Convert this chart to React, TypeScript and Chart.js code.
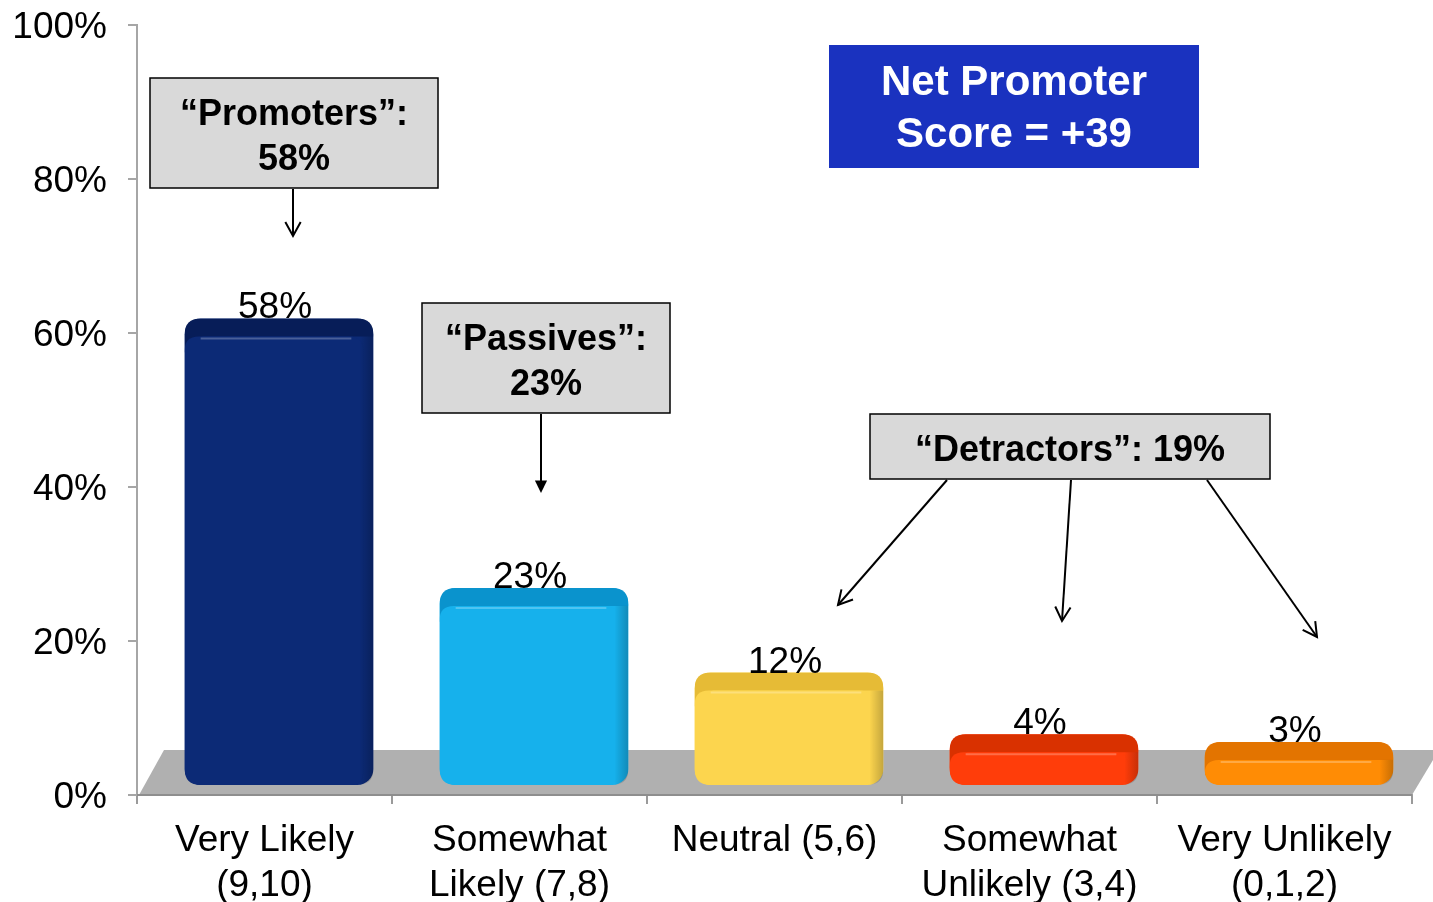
import React, { useEffect, useRef } from "react";
import { Chart, registerables } from "chart.js";

Chart.register(...registerables);

const categories: string[][] = [
  ["Very Likely", "(9,10)"],
  ["Somewhat", "Likely (7,8)"],
  ["Neutral (5,6)"],
  ["Somewhat", "Unlikely (3,4)"],
  ["Very Unlikely", "(0,1,2)"],
];
const values = [58, 23, 12, 4, 3];
const frontColors = ["#0c2a76", "#16b1ec", "#fcd54e", "#ff3d0a", "#ff8c05"];
const topColors = ["#071d58", "#0a93cd", "#e6bb36", "#d93100", "#e37400"];
const yTickValues = [0, 20, 40, 60, 80, 100];

const promotersText = ["\u201cPromoters\u201d:", "58%"];
const passivesText = ["\u201cPassives\u201d:", "23%"];
const detractorsText = ["\u201cDetractors\u201d: 19%"];
const npsText = ["Net Promoter", "Score = +39"];

const FONT = '"Liberation Sans", Arial, Helvetica, sans-serif';

// 3D look: bars shifted right/up, floor in perspective
const DEPTH_X = 14.5;
const DEPTH_Y = -30;

function roundRectPath(ctx: CanvasRenderingContext2D, x: number, y: number, w: number, h: number, r: number) {
  ctx.beginPath();
  ctx.moveTo(x + r, y);
  ctx.lineTo(x + w - r, y);
  ctx.quadraticCurveTo(x + w, y, x + w, y + r);
  ctx.lineTo(x + w, y + h - r);
  ctx.quadraticCurveTo(x + w, y + h, x + w - r, y + h);
  ctx.lineTo(x + r, y + h);
  ctx.quadraticCurveTo(x, y + h, x, y + h - r);
  ctx.lineTo(x, y + r);
  ctx.quadraticCurveTo(x, y, x + r, y);
  ctx.closePath();
}

function arrow(ctx: CanvasRenderingContext2D, x1: number, y1: number, x2: number, y2: number, filled: boolean) {
  ctx.save();
  ctx.strokeStyle = "#000";
  ctx.fillStyle = "#000";
  ctx.lineWidth = 2;
  const ang = Math.atan2(y2 - y1, x2 - x1);
  const len = filled ? 14 : 16;
  const spread = filled ? 0.45 : 0.5;
  ctx.beginPath();
  ctx.moveTo(x1, y1);
  ctx.lineTo(filled ? x2 - Math.cos(ang) * 8 : x2, filled ? y2 - Math.sin(ang) * 8 : y2);
  ctx.stroke();
  const ax = x2 - Math.cos(ang - spread) * len;
  const ay = y2 - Math.sin(ang - spread) * len;
  const bx = x2 - Math.cos(ang + spread) * len;
  const by = y2 - Math.sin(ang + spread) * len;
  ctx.beginPath();
  if (filled) {
    ctx.moveTo(ax, ay);
    ctx.lineTo(x2, y2);
    ctx.lineTo(bx, by);
    ctx.closePath();
    ctx.fill();
  } else {
    ctx.moveTo(ax, ay);
    ctx.lineTo(x2, y2);
    ctx.lineTo(bx, by);
    ctx.stroke();
  }
  ctx.restore();
}

function textBox(
  ctx: CanvasRenderingContext2D,
  x: number, y: number, w: number, h: number,
  lines: string[], fill: string, stroke: string | null, color: string, size: number, lineH: number, dy: number
) {
  ctx.save();
  ctx.fillStyle = fill;
  ctx.fillRect(x, y, w, h);
  if (stroke) {
    ctx.strokeStyle = stroke;
    ctx.lineWidth = 1.5;
    ctx.strokeRect(x, y, w, h);
  }
  ctx.fillStyle = color;
  ctx.font = `bold ${size}px ${FONT}`;
  ctx.textAlign = "center";
  ctx.textBaseline = "middle";
  const cy = y + h / 2;
  const start = cy - ((lines.length - 1) * lineH) / 2;
  lines.forEach((l, i) => ctx.fillText(l, x + w / 2, start + i * lineH + dy));
  ctx.restore();
}

const threeDPlugin = {
  id: "threeD",
  beforeDatasetsDraw(chart: any) {
    const { ctx, chartArea } = chart;
    const { left, right, bottom } = chartArea;
    ctx.save();
    // floor
    ctx.beginPath();
    ctx.moveTo(left + 2, bottom);
    ctx.lineTo(left + 27, bottom - 45);
    ctx.lineTo(right + 27, bottom - 45);
    ctx.lineTo(right, bottom);
    ctx.closePath();
    ctx.fillStyle = "#b0b0b0";
    ctx.fill();
    ctx.strokeStyle = "#8e8e8e";
    ctx.lineWidth = 2;
    ctx.beginPath();
    ctx.moveTo(left, bottom);
    ctx.lineTo(right, bottom);
    ctx.stroke();
    ctx.restore();
    ctx.save();
    ctx.translate(DEPTH_X, DEPTH_Y);
  },
  afterDatasetsDraw(chart: any) {
    const { ctx } = chart;
    const meta = chart.getDatasetMeta(0);
    meta.data.forEach((el: any, i: number) => {
      const { x, y, base, width } = el.getProps(["x", "y", "base", "width"], true);
      const l = x - width / 2;
      const h = base - y;
      ctx.save();
      roundRectPath(ctx, l, y, width, h, 16);
      ctx.clip();
      // top face
      ctx.fillStyle = topColors[i];
      ctx.beginPath();
      ctx.moveTo(l, y);
      ctx.lineTo(l + width, y);
      ctx.lineTo(l + width, y + 18);
      ctx.lineTo(l + 18, y + 18);
      ctx.lineTo(l, y + 34);
      ctx.closePath();
      ctx.fill();
      // front face
      ctx.fillStyle = frontColors[i];
      roundRectPath(ctx, l, y + 18, width - 10, h - 18, 14);
      ctx.fill();
      // right side shading
      const g = ctx.createLinearGradient(l + width - 14, 0, l + width, 0);
      g.addColorStop(0, "rgba(0,0,0,0)");
      g.addColorStop(1, "rgba(0,0,0,0.22)");
      ctx.fillStyle = g;
      ctx.fillRect(l + width - 14, y + 18, 14, h - 18);
      // highlight line
      ctx.strokeStyle = "rgba(255,255,255,0.25)";
      ctx.lineWidth = 2;
      ctx.beginPath();
      ctx.moveTo(l + 16, y + 20);
      ctx.lineTo(l + width - 22, y + 20);
      ctx.stroke();
      ctx.restore();
    });
    ctx.restore();
    // value labels
    ctx.save();
    ctx.fillStyle = "#000";
    ctx.font = `37px ${FONT}`;
    ctx.textAlign = "center";
    ctx.textBaseline = "alphabetic";
    meta.data.forEach((el: any, i: number) => {
      const { x, y } = el.getProps(["x", "y"], true);
      ctx.fillText(`${values[i]}%`, x + DEPTH_X - 4, y + DEPTH_Y);
    });
    ctx.restore();
  },
  afterDraw(chart: any) {
    const { ctx } = chart;
    textBox(ctx, 150, 78, 288, 110, promotersText, "#d9d9d9", "#000", "#000", 36, 45, 5);
    arrow(ctx, 293, 189, 293, 236, false);
    textBox(ctx, 422, 303, 248, 110, passivesText, "#d9d9d9", "#000", "#000", 36, 45, 5);
    arrow(ctx, 541, 414, 541, 493, true);
    textBox(ctx, 870, 414, 400, 65, detractorsText, "#d9d9d9", "#000", "#000", 36, 45, 5);
    arrow(ctx, 947, 480, 838, 605, false);
    arrow(ctx, 1071, 480, 1062, 621, false);
    arrow(ctx, 1207, 480, 1317, 637, false);
    textBox(ctx, 829, 45, 370, 123, npsText, "#1a32bf", null, "#fff", 42, 52, 3);
  },
};

export default function App() {
  const ref = useRef<HTMLCanvasElement>(null);
  useEffect(() => {
    if (!ref.current) return;
    const chart = new Chart(ref.current, {
      type: "bar",
      data: {
        labels: categories,
        datasets: [
          {
            data: values,
            backgroundColor: frontColors,
            borderRadius: 16,
            borderSkipped: false,
            base: -2.6,
            clip: false as any,
            categoryPercentage: 1,
            barPercentage: 0.74,
          } as any,
        ],
      },
      options: {
        animation: false,
        responsive: true,
        maintainAspectRatio: false,
        layout: { padding: { top: 25, right: 21, bottom: 0, left: 0 } },
        plugins: { legend: { display: false }, tooltip: { enabled: false } },
        scales: {
          x: {
            offset: true,
            grid: { display: true, drawOnChartArea: false, drawTicks: true, tickLength: 9, color: "#9a9a9a", lineWidth: 2, offset: true },
            border: { display: true, color: "#9a9a9a", width: 2 },
            ticks: { color: "#000", font: { family: FONT, size: 37 }, padding: 15, maxRotation: 0, autoSkip: false },
            afterFit: (s: any) => { s.height = 107; s.paddingLeft = 0; s.paddingRight = 0; },
          },
          y: {
            min: 0,
            max: 100,
            afterBuildTicks: (s: any) => { s.ticks = yTickValues.map((v) => ({ value: v })); },
            grid: { display: true, drawOnChartArea: false, drawTicks: true, tickLength: 9, color: "#a6a6a6", lineWidth: 2 },
            border: { display: true, color: "#a6a6a6", width: 2 },
            ticks: { color: "#000", font: { family: FONT, size: 37 }, padding: 21, labelOffset: 3, callback: (v: any) => `${v}%` },
            afterFit: (s: any) => { s.width = 137; s.paddingTop = 0; s.paddingBottom = 0; },
          },
        },
      },
      plugins: [threeDPlugin],
    });
    return () => chart.destroy();
  }, []);
  return (
    <div style={{ position: "absolute", left: 0, top: 0, width: 1433, height: 902, background: "#fff" }}>
      <canvas ref={ref} />
    </div>
  );
}
